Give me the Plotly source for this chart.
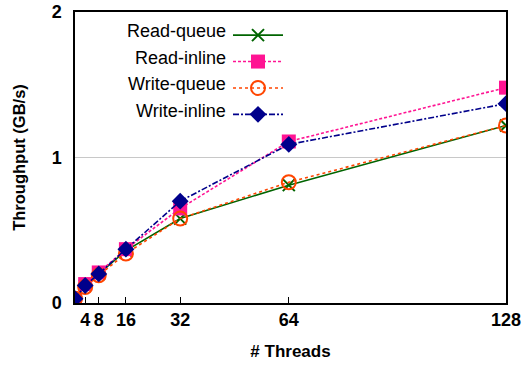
import plotly.graph_objects as go

threads = [1, 4, 8, 16, 32, 64, 128]
read_queue = [0.03, 0.12, 0.20, 0.36, 0.58, 0.81, 1.22]
read_inline = [0.03, 0.13, 0.21, 0.37, 0.65, 1.11, 1.48]
write_queue = [0.03, 0.11, 0.19, 0.34, 0.58, 0.83, 1.22]
write_inline = [0.03, 0.12, 0.20, 0.37, 0.70, 1.09, 1.37]
series_names = ["Read-queue", "Read-inline", "Write-queue", "Write-inline"]
tick_vals = [4, 8, 16, 32, 64, 128]
tick_text = ["4", "8", "16", "32", "64", "128"]

fig = go.Figure()
styles = [
    ("#006400", "solid", "x-thin-open", 12, 2),
    ("#ff1493", "3px,2px", "square", 14, 0),
    ("#ff4500", "dot", "circle-open", 14, 2),
    ("#00008b", "6px,2px,2px,2px", "diamond", 13, 0),
]
for name, vals, (color, dash, sym, size, mlw) in zip(
        series_names, [read_queue, read_inline, write_queue, write_inline], styles):
    fig.add_trace(go.Scatter(
        x=threads, y=vals, name=" ", mode="lines+markers",
        hovertext=name,
        line=dict(color=color, width=1.6, dash=dash),
        marker=dict(symbol=sym, size=size, color=color,
                    line=dict(color=color, width=mlw)),
    ))

# legend labels placed left of the symbols, as in the reference
label_y = [0.935, 0.843, 0.753, 0.661]
for name, yy in zip(series_names, label_y):
    fig.add_annotation(text=name, xref="paper", yref="paper", x=0.355, y=yy,
                       xanchor="right", yanchor="middle", showarrow=False,
                       font=dict(size=18))

fig.update_layout(
    width=524, height=366,
    margin=dict(l=75, r=18, t=12, b=63),
    paper_bgcolor="white", plot_bgcolor="white",
    font=dict(family="Liberation Sans, Arial, sans-serif", color="black"),
    legend=dict(x=0.355, y=0.983, xanchor="left", yanchor="top",
                bgcolor="rgba(0,0,0,0)", font=dict(size=18),
                tracegroupgap=0, itemwidth=50),
    showlegend=True,
)
fig.update_xaxes(
    range=[1, 128], tickvals=tick_vals,
    ticktext=["<b>%s</b>" % t for t in tick_text],
    ticks="inside", ticklen=6, tickcolor="black",
    showline=True, linecolor="black", linewidth=1.5, mirror=True,
    showgrid=False, zeroline=False, automargin=False,
    ticklabeloverflow="allow",
    tickfont=dict(size=18),
    title=dict(text="<b># Threads</b>", font=dict(size=17), standoff=16),
)
fig.update_yaxes(
    range=[0, 2], tickvals=[0, 1, 2], ticktext=["<b>0</b>", "<b>1</b>", "<b>2</b>"],
    ticks="", showline=True, linecolor="black", linewidth=1.5, mirror=True,
    showgrid=True, gridcolor="#c8c8c8", gridwidth=1, zeroline=False,
    automargin=False, tickfont=dict(size=18), ticklabelstandoff=8,
    ticklabeloverflow="allow",
    title=dict(text="<b>Throughput (GB/s)</b>", font=dict(size=16.5), standoff=22),
)
fig.write_html("out.html", config={"displayModeBar": False},
               post_script="document.body.style.margin='0';document.body.style.overflow='hidden';")
